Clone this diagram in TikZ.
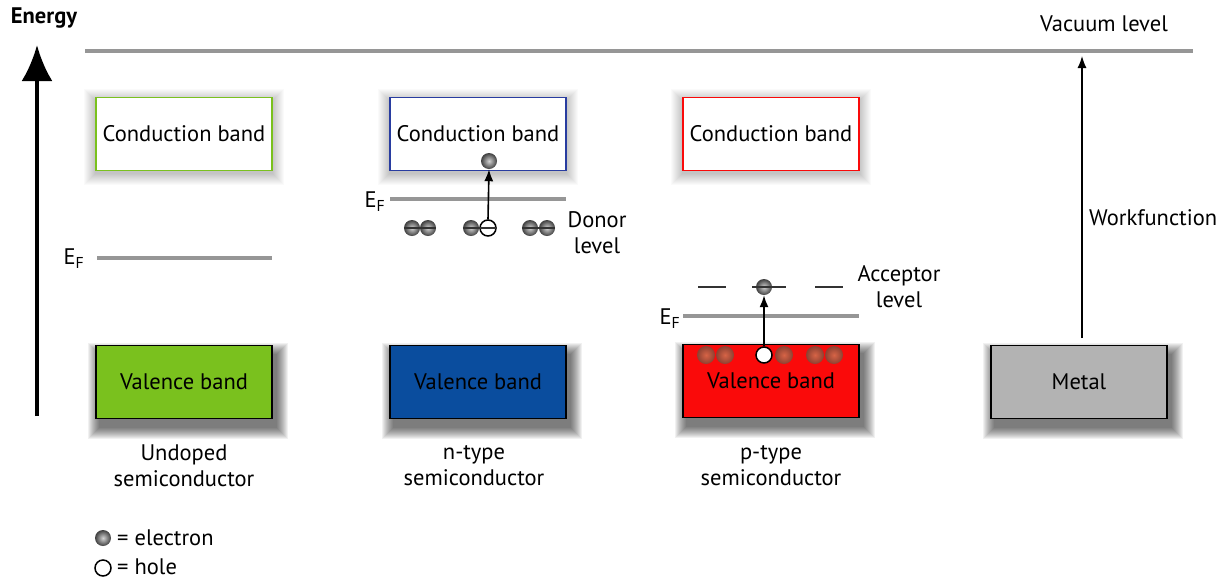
\documentclass[tikz,border=0pt]{standalone}
\usepackage{fontspec}
\setmainfont{PT Sans}
\usetikzlibrary{arrows.meta,calc}
\pgfdeclarelayer{bottom}
\pgfdeclarelayer{background}
\pgfsetlayers{bottom,background,main}
\definecolor{lvl}{RGB}{150,150,150}
\definecolor{ugreen}{RGB}{122,193,30}
\definecolor{nblue}{RGB}{10,77,158}
\definecolor{pred}{RGB}{250,10,10}
\definecolor{metalgray}{RGB}{179,179,179}
\definecolor{bblue}{RGB}{40,60,160}
\newcommand{\fsz}{\fontsize{22.5}{26}\selectfont}
% soft drop shadow behind a valence-type box
\newcommand{\vshadow}[1]{%
  \begin{pgfonlayer}{background}
  \foreach \e in {0,1,...,11}{%
    \fill[black, opacity=0.055] ($(#1.north west)+(4-\e,9-\e)$) rectangle ($(#1.south east)+(4+\e,9+\e)$);}
  \end{pgfonlayer}}
% faint glow behind a conduction-type box
\newcommand{\cshadow}[1]{%
  \begin{pgfonlayer}{background}
  \foreach \e in {0,1,...,11}{%
    \fill[black, opacity=0.02] ($(#1.north west)+(0-\e,3-\e)$) rectangle ($(#1.south east)+(0+\e,3+\e)$);}
  \end{pgfonlayer}}
\tikzset{
  lbl/.style={font=\fsz, align=center, inner sep=0pt},
  cband/.style={draw, line width=1.5pt, fill=white, minimum width=176pt, minimum height=73pt, inner sep=0pt, font=\fsz},
  vband/.style={draw=black, line width=1.5pt, minimum width=176pt, minimum height=73pt, inner sep=0pt, font=\fsz},
  level/.style={draw=lvl, line width=3.5pt},
  electron/.style={circle, minimum size=16pt, inner sep=0pt, shading=radial, inner color=gray!35, outer color=black!50!gray},
  pelectron/.style={circle, minimum size=18pt, inner sep=0pt, shading=radial, inner color={rgb,255:red,215;green,100;blue,70}, outer color={rgb,255:red,140;green,65;blue,50}},
  hole/.style={circle, draw=black, line width=1.5pt, fill=white, minimum width=16pt, minimum height=13pt, inner sep=0pt},
  arr/.style={-{Latex[length=12pt,width=9pt]}, line width=1.6pt},
  ef/.style={font=\fsz, inner sep=0pt},
  dashline/.style={line width=1.6pt, draw=black!80}
}
\begin{document}
\begin{tikzpicture}[x=1pt,y=-1pt]
\begin{pgfonlayer}{bottom}
\useasboundingbox[fill=white] (0,0) rectangle (1230,579);
\end{pgfonlayer}
% energy axis
\node[font=\bfseries\fsz, inner sep=0pt] (energy) at (44,18) {Energy};
\coordinate (eaxb) at (37,416);
\coordinate (eaxt) at (37,45);
\draw[-{Latex[length=36pt,width=31pt]}, line width=4pt] (eaxb) -- (eaxt);
% vacuum level
\coordinate (vacl) at (85,51);
\coordinate (vacr) at (1193,51);
\draw[level] (vacl) -- (vacr);
\node[lbl] (vaclbl) at (1104,24) {Vacuum level};

% ---------- undoped ----------
\node[cband, draw=ugreen] (ucb) at (184,134) {Conduction band};
\cshadow{ucb}
\coordinate (uefl) at (97,258);
\coordinate (uefr) at (272,258);
\draw[level] (uefl) -- (uefr);
\node[ef] (uef) at (74,259) {E\textsubscript{F}};
\node[vband, fill=ugreen] (uvb) at (184,382) {Valence band};
\vshadow{uvb}
\node[lbl] (ulbl) at (184,466) {Undoped\\semiconductor};

% ---------- n-type ----------
\node[cband, draw=bblue] (ncb) at (478,134) {Conduction band};
\cshadow{ncb}
\coordinate (nefl) at (390,199);
\coordinate (nefr) at (566,199);
\draw[level] (nefl) -- (nefr);
\node[ef] (nef) at (375,202) {E\textsubscript{F}};
\node[electron] (ne0) at (489,161) {};
\node[electron] (nd1) at (412,228) {};
\node[electron] (nd2) at (428,228) {};
\node[electron] (nd3) at (471,228) {};
\node[hole] (nh) at (488,228) {};
\node[electron] (nd5) at (530,228) {};
\node[electron] (nd6) at (547,228) {};
\draw[dashline] (nd1.west) -- (nd2.east);
\draw[dashline] (nd3.west) -- (nh.east);
\draw[dashline] (nd5.west) -- (nd6.east);
\draw[arr] (nh.north) -- (ne0.south);
\node[lbl] (donor) at (597,233) {Donor\\level};
\node[vband, fill=nblue] (nvb) at (478,382) {Valence band};
\vshadow{nvb}
\node[lbl] (nlbl) at (474,466) {n-type\\semiconductor};

% ---------- p-type ----------
\node[cband, draw=pred] (pcb) at (771,134) {Conduction band};
\cshadow{pcb}
\coordinate (pa1) at (698,287);
\coordinate (pa2) at (726,287);
\coordinate (pa3) at (752,287);
\coordinate (pa4) at (786,287);
\coordinate (pa5) at (815,287);
\coordinate (pa6) at (843,287);
\draw[dashline] (pa1) -- (pa2);
\node[electron] (pe0) at (764,287) {};
\draw[dashline] (pa3) -- (pa4);
\draw[dashline] (pa5) -- (pa6);
\node[lbl] (acc) at (899,287) {Acceptor\\level};
\coordinate (pefl) at (683,316);
\coordinate (pefr) at (859,316);
\draw[level] (pefl) -- (pefr);
\node[ef] (pef) at (670,319) {E\textsubscript{F}};
\node[vband, fill=pred] (pvb) at (771,381) {\raisebox{-3pt}{Valence band}};
\vshadow{pvb}
\node[pelectron] (pv1) at (706,355) {};
\node[pelectron] (pv2) at (725,355) {};
\node[hole] (ph) at (764,355) {};
\node[pelectron] (pv4) at (784,355) {};
\node[pelectron] (pv5) at (815,355) {};
\node[pelectron] (pv6) at (834,355) {};
\draw[arr] (ph.north) -- (pe0.south);
\node[lbl] (plbl) at (771,466) {p-type\\semiconductor};

% ---------- metal ----------
\node[vband, fill=metalgray] (metal) at (1079,382) {Metal};
\vshadow{metal}
\coordinate (wfb) at (1082,338);
\coordinate (wft) at (1082,56);
\draw[arr, line width=1.3pt] (wfb) -- (wft);
\node[lbl, anchor=west] (wflbl) at (1089,218) {Workfunction};

% ---------- legend ----------
\node[electron] (lege) at (103,538) {};
\node[lbl, anchor=west] (legetxt) at (117,538) {= electron};
\node[hole] (legh) at (103,568) {};
\node[lbl, anchor=west] (leghtxt) at (117,567) {= hole};
\end{tikzpicture}
\end{document}
